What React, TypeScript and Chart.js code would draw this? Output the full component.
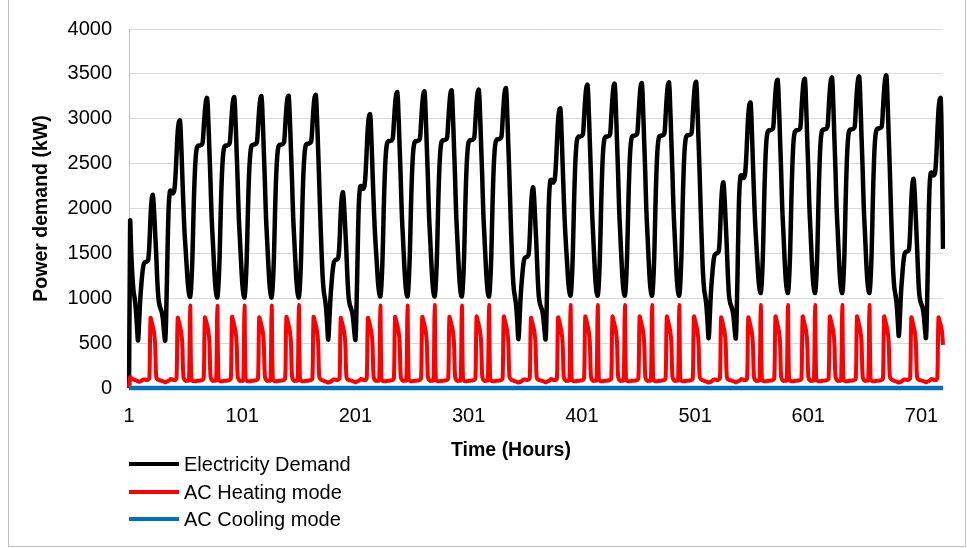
import React, { useEffect, useRef } from "react";
import { Chart, registerables } from "chart.js";

Chart.register(...registerables);

// ---------- DATA (hourly, 720 hours) ----------
const hourLabels: string[] = Array.from({ length: 720 }, (_, i) => String(i + 1));
const xTickLabels: string[] = ["1", "101", "201", "301", "401", "501", "601", "701"];
const yTicks: number[] = [0, 500, 1000, 1500, 2000, 2500, 3000, 3500, 4000];
const seriesNames: string[] = ["Electricity Demand", "AC Heating mode", "AC Cooling mode"];
const seriesColors: string[] = ["#000000", "#FF0000", "#0070C0"];

// Electricity demand (kW), one row of 24 hours per day
const demandWeek1: number[] = [
  0, 1850, 1500, 1250, 1080, 1000, 880, 700, 530, 750, 1000, 1170, 1300, 1380, 1400, 1405, 1410, 1430, 1600, 1900, 2100, 2150, 2000, 1750,
  1500, 1200, 1000, 920, 880, 840, 760, 620, 530, 900, 1500, 2000, 2180, 2200, 2180, 2170, 2200, 2350, 2600, 2850, 2960, 2980, 2750, 2400,
  2050, 1750, 1550, 1350, 1160, 1050, 1015, 1150, 1450, 1950, 2350, 2580, 2680, 2700, 2700, 2705, 2710, 2730, 2900, 3080, 3200, 3230, 3000, 2650,
  2300, 1900, 1650, 1400, 1180, 1050, 1010, 1150, 1450, 1950, 2350, 2580, 2680, 2700, 2700, 2705, 2710, 2730, 2900, 3090, 3210, 3240, 3010, 2660,
  2300, 1900, 1650, 1400, 1180, 1050, 1010, 1150, 1450, 1950, 2360, 2590, 2690, 2710, 2710, 2715, 2720, 2740, 2910, 3100, 3220, 3250, 3020, 2670,
  2310, 1910, 1650, 1400, 1180, 1050, 1010, 1150, 1450, 1960, 2360, 2590, 2690, 2710, 2710, 2715, 2720, 2740, 2920, 3110, 3230, 3255, 3020, 2670,
  2310, 1910, 1650, 1400, 1180, 1050, 1010, 1150, 1460, 1960, 2370, 2600, 2700, 2720, 2720, 2725, 2730, 2750, 2930, 3120, 3240, 3265, 3030, 2680,
];
const demandWeek2: number[] = [
  2300, 1900, 1550, 1250, 1080, 1000, 900, 720, 540, 760, 1010, 1180, 1320, 1400, 1425, 1430, 1435, 1460, 1640, 1940, 2130, 2180, 2030, 1780,
  1520, 1220, 1010, 930, 890, 850, 770, 630, 540, 920, 1530, 2050, 2230, 2250, 2230, 2220, 2250, 2400, 2660, 2910, 3030, 3050, 2810, 2450,
  2100, 1790, 1570, 1370, 1170, 1060, 1020, 1160, 1470, 1980, 2390, 2630, 2730, 2750, 2750, 2755, 2760, 2780, 2960, 3150, 3270, 3296, 3060, 2700,
  2340, 1930, 1670, 1410, 1190, 1060, 1020, 1160, 1470, 1980, 2390, 2630, 2730, 2750, 2750, 2755, 2760, 2780, 2960, 3150, 3275, 3304, 3065, 2705,
  2345, 1935, 1670, 1410, 1190, 1060, 1020, 1160, 1470, 1980, 2400, 2640, 2740, 2760, 2760, 2765, 2770, 2790, 2970, 3160, 3285, 3315, 3070, 2710,
  2350, 1935, 1670, 1410, 1190, 1060, 1020, 1160, 1470, 1990, 2400, 2640, 2740, 2760, 2760, 2765, 2770, 2790, 2975, 3170, 3295, 3322, 3080, 2715,
  2355, 1940, 1675, 1415, 1190, 1060, 1020, 1165, 1475, 1990, 2410, 2650, 2750, 2770, 2770, 2775, 2780, 2800, 2985, 3180, 3310, 3340, 3090, 2720,
];
const demandWeek3: number[] = [
  2360, 1940, 1570, 1260, 1090, 1010, 910, 730, 545, 770, 1030, 1200, 1340, 1430, 1455, 1460, 1465, 1490, 1680, 1990, 2180, 2235, 2080, 1820,
  1550, 1240, 1020, 940, 900, 860, 780, 640, 545, 940, 1570, 2110, 2300, 2320, 2300, 2290, 2320, 2470, 2730, 2980, 3095, 3115, 2870, 2500,
  2140, 1820, 1590, 1390, 1180, 1070, 1030, 1170, 1490, 2010, 2430, 2680, 2780, 2800, 2800, 2805, 2810, 2830, 3020, 3220, 3350, 3378, 3130, 2760,
  2390, 1970, 1700, 1430, 1200, 1070, 1030, 1170, 1490, 2010, 2430, 2680, 2780, 2800, 2800, 2805, 2810, 2830, 3025, 3225, 3360, 3389, 3135, 2765,
  2395, 1975, 1700, 1430, 1200, 1070, 1030, 1170, 1490, 2010, 2440, 2690, 2790, 2810, 2810, 2815, 2820, 2840, 3030, 3230, 3365, 3396, 3140, 2770,
  2400, 1975, 1700, 1430, 1200, 1070, 1030, 1170, 1490, 2015, 2440, 2690, 2790, 2810, 2810, 2815, 2820, 2840, 3035, 3240, 3375, 3404, 3145, 2775,
  2400, 1980, 1705, 1435, 1200, 1070, 1030, 1175, 1495, 2020, 2445, 2695, 2795, 2815, 2815, 2820, 2825, 2845, 3040, 3245, 3380, 3410, 3150, 2780,
];
const demandWeek4: number[] = [
  2410, 1980, 1600, 1280, 1100, 1020, 920, 740, 555, 790, 1060, 1230, 1380, 1470, 1495, 1500, 1505, 1530, 1720, 2040, 2235, 2290, 2130, 1860,
  1580, 1260, 1030, 950, 910, 870, 790, 650, 555, 960, 1610, 2160, 2350, 2370, 2350, 2340, 2370, 2520, 2790, 3040, 3160, 3180, 2930, 2550,
  2180, 1860, 1630, 1420, 1210, 1100, 1060, 1200, 1520, 2060, 2490, 2750, 2850, 2870, 2870, 2875, 2880, 2900, 3090, 3290, 3410, 3433, 3180, 2800,
  2430, 2010, 1740, 1460, 1230, 1100, 1060, 1200, 1520, 2060, 2490, 2750, 2850, 2870, 2870, 2875, 2880, 2900, 3095, 3295, 3420, 3444, 3185, 2805,
  2435, 2015, 1740, 1460, 1230, 1100, 1060, 1200, 1520, 2065, 2500, 2760, 2860, 2880, 2880, 2885, 2890, 2910, 3105, 3310, 3430, 3459, 3195, 2810,
  2440, 2020, 1745, 1465, 1230, 1100, 1060, 1200, 1525, 2070, 2500, 2760, 2860, 2880, 2880, 2885, 2890, 2910, 3110, 3315, 3440, 3470, 3200, 2815,
  2445, 2020, 1745, 1465, 1230, 1100, 1060, 1205, 1525, 2070, 2505, 2765, 2865, 2890, 2890, 2895, 2900, 2920, 3115, 3320, 3450, 3481, 3210, 2820,
];
const demandWeek5: number[] = [
  2450, 2010, 1620, 1300, 1120, 1040, 940, 760, 580, 810, 1080, 1250, 1400, 1490, 1515, 1520, 1525, 1550, 1750, 2080, 2275, 2330, 2170, 1890,
  1600, 1280, 1050, 970, 930, 890, 810, 670, 560, 980, 1640, 2200, 2390, 2400, 2380, 2370, 2400, 2560, 2840, 3090, 3210, 3230, 2600, 1550,
];

// AC heating mode (kW)
const heatingWeek1: number[] = [
  0, 120, 110, 100, 95, 90, 85, 80, 75, 70, 75, 80, 90, 95, 95, 90, 90, 95, 110, 780, 740, 690, 630, 510,
  130, 95, 90, 85, 85, 80, 75, 70, 65, 70, 75, 80, 90, 100, 95, 90, 90, 90, 110, 780, 745, 690, 630, 510,
  130, 90, 80, 80, 80, 85, 920, 100, 80, 75, 75, 75, 80, 80, 80, 85, 85, 90, 110, 785, 750, 700, 640, 520,
  130, 90, 80, 80, 80, 85, 915, 100, 80, 75, 75, 75, 80, 80, 80, 85, 85, 90, 110, 790, 750, 700, 640, 520,
  130, 90, 80, 80, 80, 85, 920, 100, 80, 75, 75, 75, 80, 80, 80, 85, 85, 90, 110, 785, 750, 700, 640, 520,
  130, 90, 80, 80, 80, 85, 920, 100, 80, 75, 75, 75, 80, 80, 80, 85, 85, 90, 110, 790, 755, 700, 640, 520,
  130, 90, 80, 80, 80, 85, 925, 100, 80, 75, 75, 75, 80, 80, 80, 85, 85, 90, 110, 790, 750, 700, 640, 520,
];
const heatingWeek2: number[] = [
  130, 100, 90, 85, 80, 75, 70, 65, 60, 65, 70, 80, 90, 95, 95, 90, 90, 95, 110, 780, 740, 690, 630, 510,
  130, 95, 90, 85, 85, 80, 75, 70, 65, 70, 75, 80, 90, 100, 95, 90, 90, 90, 110, 780, 745, 690, 630, 510,
  130, 90, 80, 80, 80, 85, 920, 100, 80, 75, 75, 75, 80, 80, 80, 85, 85, 90, 110, 790, 750, 700, 640, 520,
  130, 90, 80, 80, 80, 85, 920, 100, 80, 75, 75, 75, 80, 80, 80, 85, 85, 90, 110, 790, 750, 700, 640, 520,
  130, 90, 80, 80, 80, 85, 925, 100, 80, 75, 75, 75, 80, 80, 80, 85, 85, 90, 110, 790, 755, 700, 640, 520,
  130, 90, 80, 80, 80, 85, 920, 100, 80, 75, 75, 75, 80, 80, 80, 85, 85, 90, 110, 795, 755, 700, 640, 520,
  130, 90, 80, 80, 80, 85, 925, 100, 80, 75, 75, 75, 80, 80, 80, 85, 85, 90, 110, 795, 755, 700, 640, 520,
];
const heatingWeek3: number[] = [
  130, 100, 90, 85, 80, 75, 70, 65, 60, 65, 70, 80, 90, 95, 95, 90, 90, 95, 110, 780, 740, 690, 630, 510,
  130, 95, 90, 85, 85, 80, 75, 70, 65, 70, 75, 80, 90, 100, 95, 90, 90, 90, 110, 785, 745, 690, 630, 510,
  130, 90, 80, 80, 80, 85, 925, 100, 80, 75, 75, 75, 80, 80, 80, 85, 85, 90, 110, 795, 755, 700, 640, 520,
  130, 90, 80, 80, 80, 85, 925, 100, 80, 75, 75, 75, 80, 80, 80, 85, 85, 90, 110, 795, 755, 700, 640, 520,
  130, 90, 80, 80, 80, 85, 925, 100, 80, 75, 75, 75, 80, 80, 80, 85, 85, 90, 110, 795, 755, 700, 640, 520,
  130, 90, 80, 80, 80, 85, 925, 100, 80, 75, 75, 75, 80, 80, 80, 85, 85, 90, 110, 795, 755, 700, 640, 520,
  130, 90, 80, 80, 80, 85, 925, 100, 80, 75, 75, 75, 80, 80, 80, 85, 85, 90, 110, 795, 755, 700, 640, 520,
];
const heatingWeek4: number[] = [
  130, 100, 90, 85, 80, 75, 70, 65, 60, 65, 70, 80, 90, 95, 95, 90, 90, 95, 110, 785, 745, 690, 630, 510,
  130, 95, 90, 85, 85, 80, 75, 70, 65, 70, 75, 80, 90, 100, 95, 90, 90, 90, 110, 785, 745, 690, 630, 510,
  130, 90, 80, 80, 80, 85, 925, 100, 80, 75, 75, 75, 80, 80, 80, 85, 85, 90, 110, 795, 755, 700, 640, 520,
  130, 90, 80, 80, 80, 85, 925, 100, 80, 75, 75, 75, 80, 80, 80, 85, 85, 90, 110, 795, 755, 700, 640, 520,
  130, 90, 80, 80, 80, 85, 925, 100, 80, 75, 75, 75, 80, 80, 80, 85, 85, 90, 110, 795, 755, 700, 640, 520,
  130, 90, 80, 80, 80, 85, 925, 100, 80, 75, 75, 75, 80, 80, 80, 85, 85, 90, 110, 795, 755, 700, 640, 520,
  130, 90, 80, 80, 80, 85, 925, 100, 80, 75, 75, 75, 80, 80, 80, 85, 85, 90, 110, 795, 755, 700, 640, 520,
];
const heatingWeek5: number[] = [
  130, 100, 90, 85, 80, 75, 70, 65, 60, 65, 70, 80, 90, 95, 95, 90, 90, 95, 110, 785, 745, 690, 630, 510,
  130, 95, 90, 85, 85, 80, 75, 70, 65, 70, 75, 80, 90, 100, 95, 90, 90, 90, 110, 785, 745, 700, 640, 480,
];

// AC cooling mode (kW): zero throughout the month
const coolingValue = 0;

const electricityDemand: number[] = [...demandWeek1, ...demandWeek2, ...demandWeek3, ...demandWeek4, ...demandWeek5];
const acHeating: number[] = [...heatingWeek1, ...heatingWeek2, ...heatingWeek3, ...heatingWeek4, ...heatingWeek5];
const acCooling: number[] = hourLabels.map(() => coolingValue);

// ---------- LAYOUT ----------
const W = 967;
const H = 548;
const PLOT_LEFT = 129;
const PLOT_RIGHT = 943;
const PLOT_TOP = 28;
const PLOT_BOTTOM = 388;
const FONT = "'Liberation Sans', Arial, sans-serif";

const overlayPlugin = {
  id: "overlay",
  afterDraw(chart: any) {
    const ctx = chart.ctx as CanvasRenderingContext2D;
    ctx.save();
    // x-axis title
    ctx.fillStyle = "#000";
    ctx.font = `bold 19.5px ${FONT}`;
    ctx.textAlign = "center";
    ctx.textBaseline = "middle";
    ctx.fillText("Time (Hours)", 511, 451);
    // legend
    const rows = [464, 492, 519];
    ctx.font = `20px ${FONT}`;
    ctx.textAlign = "left";
    seriesNames.forEach((name, i) => {
      ctx.strokeStyle = seriesColors[i];
      ctx.lineWidth = 4;
      ctx.beginPath();
      ctx.moveTo(129, rows[i]);
      ctx.lineTo(179, rows[i]);
      ctx.stroke();
      ctx.fillStyle = "#000";
      ctx.fillText(name, 184, rows[i] + 1);
    });
    ctx.restore();
  },
};

export default function App() {
  const ref = useRef<HTMLCanvasElement | null>(null);

  useEffect(() => {
    if (!ref.current) return;
    const chart = new Chart(ref.current, {
      type: "line",
      data: {
        labels: hourLabels,
        datasets: [
          {
            label: seriesNames[0],
            data: electricityDemand,
            borderColor: seriesColors[0],
            backgroundColor: seriesColors[0],
            borderWidth: 4.5,
            pointRadius: 0,
            tension: 0.4,
            borderJoinStyle: "round",
            order: 3,
          },
          {
            label: seriesNames[1],
            data: acHeating,
            borderColor: seriesColors[1],
            backgroundColor: seriesColors[1],
            borderWidth: 4,
            pointRadius: 0,
            tension: 0.4,
            borderJoinStyle: "round",
            order: 2,
          },
          {
            label: seriesNames[2],
            data: acCooling,
            borderColor: seriesColors[2],
            backgroundColor: seriesColors[2],
            borderWidth: 4.5,
            pointRadius: 0,
            tension: 0,
            clip: false,
            order: 1,
          },
        ],
      },
      options: {
        animation: false,
        responsive: false,
        devicePixelRatio: 1,
        layout: { padding: { left: 0, top: PLOT_TOP, right: W - PLOT_RIGHT, bottom: 0 } },
        plugins: {
          legend: { display: false },
          tooltip: { enabled: false },
          title: { display: false },
        },
        scales: {
          x: {
            type: "category",
            offset: false,
            grid: { display: false, drawTicks: false },
            border: { display: false },
            ticks: {
              autoSkip: false,
              maxRotation: 0,
              minRotation: 0,
              padding: 16,
              color: "#000",
              font: { family: FONT, size: 20 },
              callback: (_v: any, i: number) => (xTickLabels.includes(hourLabels[i]) ? hourLabels[i] : ""),
            },
            afterFit: (s: any) => {
              s.height = H - PLOT_BOTTOM;
            },
          },
          y: {
            min: 0,
            max: 4000,
            afterBuildTicks: (s: any) => {
              s.ticks = yTicks.map((v) => ({ value: v }));
            },
            grid: { color: "#d9d9d9", lineWidth: 1, drawTicks: false },
            border: { display: true, color: "#bfbfbf", width: 1 },
            ticks: {
              padding: 17,
              color: "#000",
              font: { family: FONT, size: 20 },
              callback: (v: any) => String(v),
            },
            title: {
              display: true,
              text: "Power demand (kW)",
              color: "#000",
              font: { family: FONT, size: 19.5, weight: "bold" },
              padding: { top: 30, bottom: 0 },
            },
            afterFit: (s: any) => {
              s.width = PLOT_LEFT;
            },
          },
        },
      },
      plugins: [overlayPlugin],
    });
    return () => chart.destroy();
  }, []);

  return (
    <div style={{ position: "absolute", left: 0, top: 0, width: W, height: H, background: "#fff", overflow: "hidden" }}>
      <div
        style={{
          position: "absolute",
          left: 8,
          top: -2,
          width: 958,
          height: 549,
          boxSizing: "border-box",
          border: "1px solid #bfbfbf",
        }}
      />
      <canvas ref={ref} width={W} height={H} style={{ position: "absolute", left: 0, top: 0, width: W, height: H }} />
    </div>
  );
}
